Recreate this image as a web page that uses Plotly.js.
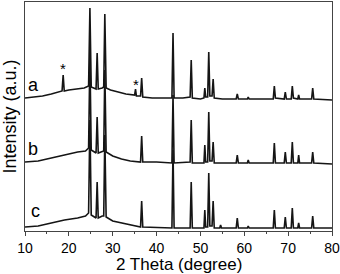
<!DOCTYPE html>
<html><head><meta charset="utf-8">
<script src="https://cdn.plot.ly/plotly-3.0.1.min.js"></script>
<style>body{margin:0;padding:0;background:#fff}#plot{width:340px;height:274px}</style>
</head><body><div id="plot"></div>
<script>
// XRD patterns: [2theta, intensity (a.u., offset)]
const pattern_a = [[10,133],[12,134],[14,135],[16,137],[18,139],[18.45,140],[18.7,156],[18.95,140],[20,141],[22,142],[23.5,143],[24.5,145],[24.8,223],[25.1,144],[25.9,142],[26.2,142],[26.45,178],[26.7,142],[27.6,143],[27.95,144],[28.2,217],[28.5,143],[29.5,141],[31,139],[33,137],[35,136],[35.2,142],[35.4,135],[36.35,135],[36.6,153],[36.85,134],[39,133],[42,133],[43.5,133],[43.75,198],[44.0,133],[46,133],[47.65,134],[47.9,171],[48.15,133],[50.0,132],[50.8,133],[51.0,143],[51.2,134],[51.65,134],[51.9,179],[52.15,135],[52.65,135],[52.9,152],[53.15,133],[55,132],[58.15,132],[58.4,137],[58.65,132],[60.7,132],[60.9,134],[61.1,132],[64,132],[66.6,132],[66.85,145],[67.1,133],[69.1,132],[69.35,139],[69.6,132],[70.7,132],[70.95,145],[71.2,133],[72.2,132],[72.4,136],[72.6,132],[75.35,132],[75.6,143],[75.85,132],[80,131]];
const pattern_b = [[10,69],[13,70],[16,73],[19,76],[22,79],[23.8,80],[24.5,83],[24.8,174],[25.1,81],[26.2,78],[26.45,114],[26.7,78],[27.6,79],[27.95,80],[28.2,161],[28.5,79],[30,75],[32,72],[34,70],[36.35,69],[36.6,95],[36.85,69],[40,69],[43.5,68],[43.75,136],[44.0,68],[47.65,69],[47.9,111],[48.15,68],[50.8,68],[51.0,86],[51.2,69],[51.65,69],[51.9,119],[52.15,70],[52.65,70],[52.9,89],[53.15,68],[58.15,68],[58.4,76],[58.65,68],[60.7,68],[60.9,71],[61.1,68],[66.6,68],[66.85,88],[67.1,68],[69.1,68],[69.35,79],[69.6,68],[70.7,68],[70.95,89],[71.2,68],[72.2,68],[72.4,76],[72.6,68],[75.35,68],[75.6,79],[75.85,68],[80,67]];
const pattern_c = [[10,4],[13,5],[16,8],[19,11],[22,13],[23.8,15],[24.5,18],[24.8,111],[25.1,16],[26.2,13],[26.45,49],[26.7,13],[27.6,15],[27.95,15],[28.2,96],[28.5,14],[30,10],[33,7],[36.35,4],[36.6,30],[36.85,4],[43.5,3],[43.75,81],[44.0,3],[47.65,3],[47.9,49],[48.15,3],[50.8,3],[51.0,21],[51.2,4],[51.65,4],[51.9,58],[52.15,5],[52.65,5],[52.9,30],[53.15,3],[54.4,3],[54.6,6],[54.8,3],[58.15,3],[58.4,13],[58.65,3],[60.7,3],[60.9,5],[61.1,3],[66.6,3],[66.85,21],[67.1,3],[69.1,3],[69.35,14],[69.6,3],[70.7,3],[70.95,23],[71.2,3],[72.2,3],[72.4,8],[72.6,3],[75.35,3],[75.6,15],[75.85,3],[80,3]];
const xTicks = [10,20,30,40,50,60,70,80];
const curveLabels = ['a','b','c'];
const starMarks = [[18.6,163],[35.2,147]];

const FONT = 'Liberation Sans, Arial, sans-serif';
const lineStyle = {color:'#151515', width:1.6};
const traces = [pattern_a, pattern_b, pattern_c].map(p=>({
  x:p.map(d=>d[0]), y:p.map(d=>d[1]), type:'scatter', mode:'lines', line:lineStyle, hoverinfo:'skip'
}));
const labelPos = [[11.9,146],[11.9,82],[12.3,20]];
const annotations = curveLabels.map((t,i)=>({x:labelPos[i][0], y:labelPos[i][1], text:t, showarrow:false, font:{size:18, color:'#000', family:FONT}}))
  .concat(starMarks.map(p=>({x:p[0], y:p[1], text:'*', showarrow:false, font:{size:15,color:'#000',family:FONT}})))
  .concat([{xref:'paper', yref:'paper', x:0.5, y:-0.148, xanchor:'center', yanchor:'middle', borderpad:0, text:'2 Theta (degree)', showarrow:false, font:{size:17, color:'#000', family:FONT}}]);

const layout = {
  width:340, height:274,
  margin:{l:25, r:8, t:2, b:43},
  paper_bgcolor:'#fff', plot_bgcolor:'#fff',
  showlegend:false,
  font:{family:FONT, color:'#000'},
  xaxis:{range:[10,80], tickvals:xTicks, ticktext:xTicks.map(String), ticks:'outside', ticklen:4, tickwidth:1, tickcolor:'#444',
    minor:{dtick:5, ticks:'outside', ticklen:2, tickcolor:'#444'},
    showline:true, linecolor:'#444', linewidth:1, mirror:true, showgrid:false, zeroline:false,
    tickfont:{size:14}},
  yaxis:{range:[0,229], showticklabels:false, ticks:'', showline:true, linecolor:'#444', linewidth:1, mirror:true, showgrid:false, zeroline:false,
    title:{text:'Intensity (a.u.)', font:{size:18}}},
  annotations:annotations
};
Plotly.newPlot('plot', traces, layout, {staticPlot:true, displayModeBar:false});
</script></body></html>
